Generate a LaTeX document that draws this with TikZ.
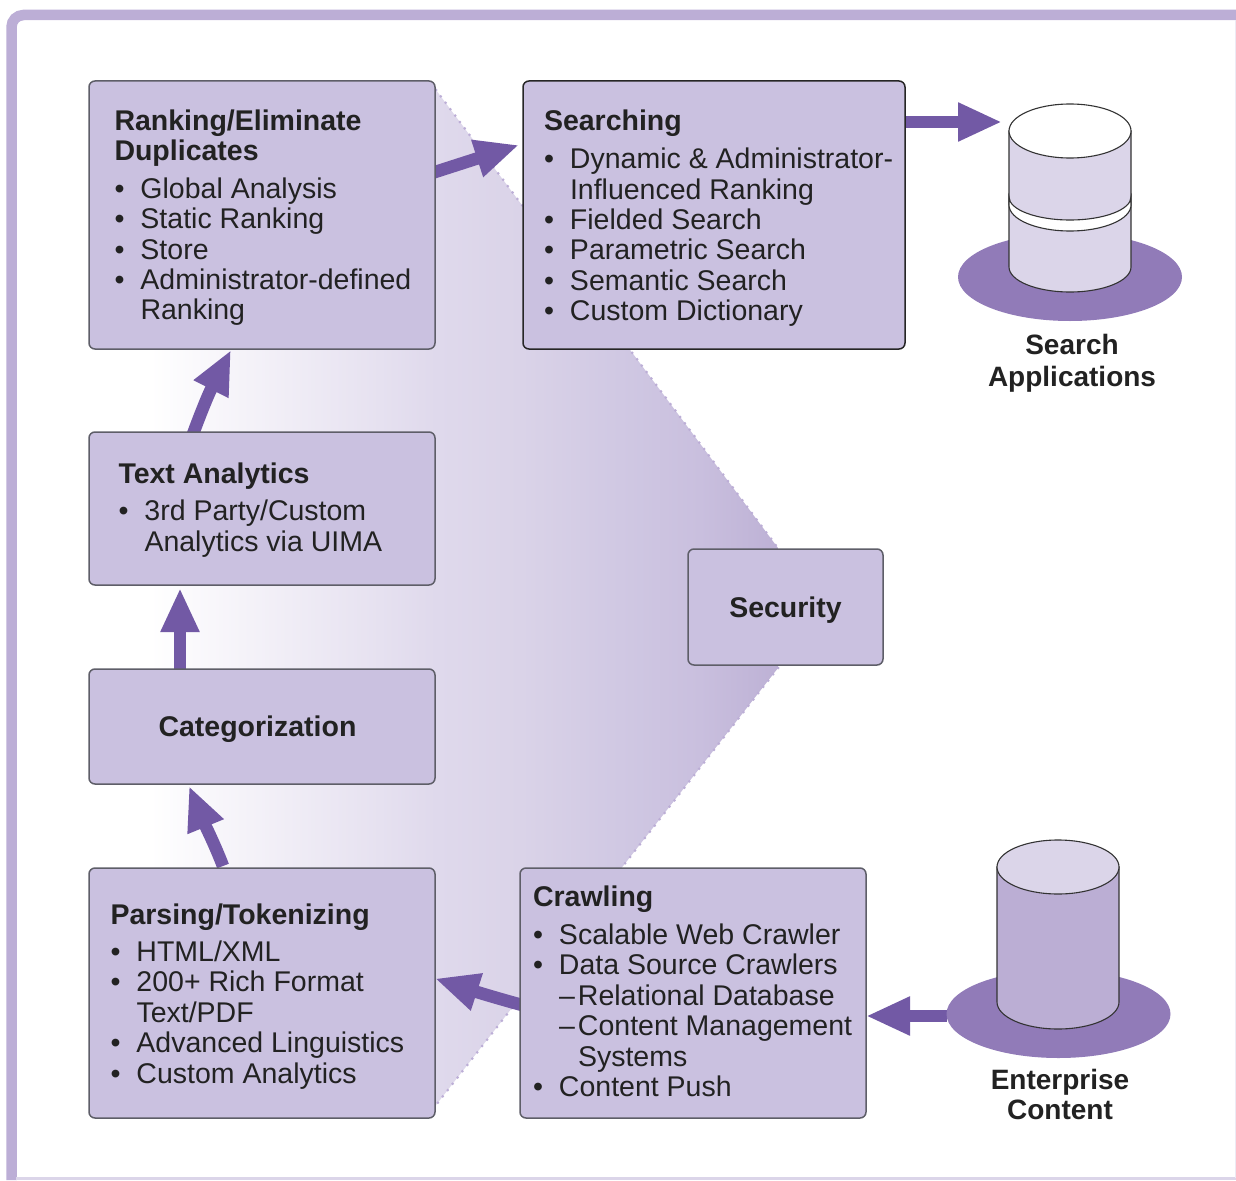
\documentclass[tikz,border=0pt]{standalone}
\usepackage{fontspec}
\setmainfont{Liberation Sans}
\usetikzlibrary{arrows.meta,shapes.geometric,backgrounds}
\definecolor{framec}{HTML}{BCAED6}
\definecolor{boxc}{HTML}{CAC1E0}
\definecolor{edgec}{HTML}{5E5E68}
\definecolor{arrowc}{HTML}{7259A5}
\definecolor{platc}{HTML}{917BB8}
\definecolor{lightc}{HTML}{DBD5E9}
\definecolor{bodyc}{HTML}{BBAED4}
\definecolor{textc}{HTML}{222222}
\definecolor{sA}{HTML}{E6E1F0}
\definecolor{sB}{HTML}{DFD9EC}
\definecolor{sC}{HTML}{DAD3E8}
\definecolor{sD}{HTML}{D0C8E3}
\definecolor{sE}{HTML}{C9BFDE}
\definecolor{sF}{HTML}{BDB1D5}
\pgfdeclarehorizontalshading{secshade}{100bp}{color(0bp)=(white);color(25bp)=(white);color(43.3bp)=(sA);color(47.8bp)=(sB);color(54.5bp)=(sC);color(62.4bp)=(sD);color(68.8bp)=(sE);color(75bp)=(sF);color(100bp)=(sF)}
\newdimen\tx
\newdimen\firstb
\newdimen\hgap
\newcommand\cbody[6]{\begin{minipage}[c][#2pt][t]{#1pt}\tx=#4pt\firstb=#3pt\hgap=#5pt\parindent=0pt\parskip=0pt\baselineskip=30.4pt\lineskiplimit=-100pt\hbadness=10000\hfuzz=30pt #6\end{minipage}}
\newcommand\boxhead[1]{\par\leftskip=\tx\noindent\rule{0pt}{\firstb}{\bfseries #1\par}\vspace{\hgap}}
\newcommand\boxitem[1]{\par\leftskip=\dimexpr\tx+26pt\relax\noindent\llap{\textbullet\hspace{16pt}}#1\par}
\newcommand\boxsub[1]{\par\leftskip=\dimexpr\tx+45pt\relax\noindent\llap{–\hspace{3pt}}#1\par}
\tikzset{
  x=1pt,y=-1pt,
  every node/.style={text=textc,font=\fontsize{28.5}{30.4}\selectfont},
  box/.style={draw=edgec,line width=1.5pt,fill=boxc,rounded corners=6pt,inner sep=0pt,outer sep=0pt},
  darkbox/.style={box,draw=black!85},
  lbl/.style={font=\fontsize{28.5}{30.4}\selectfont\bfseries,align=center,inner sep=0pt},
  caplbl/.style={font=\fontsize{28}{30.4}\selectfont\bfseries,align=center,inner sep=0pt},
  fat/.style={draw=arrowc,line width=12.5pt,-{Triangle[length=44pt,width=36pt,fill=arrowc]}},
  plat/.style={ellipse,fill=platc,inner sep=0pt,outer sep=0pt,minimum width=224pt,minimum height=88pt},
  cyl/.style={draw=black!80,line width=1.1pt},
  dotedge/.style={framec,line width=3pt,line cap=round,dash pattern=on 0pt off 8pt},
}
\begin{document}
\begin{tikzpicture}
\useasboundingbox (0,0) rectangle (1236,1180);
\draw[framec,line width=10.5pt,rounded corners=12pt] (1236,15) -- (11.5,15) -- (11.5,1180);
\draw[lightc,line width=2.5pt] (16,1178.7) -- (1236,1178.7);
\draw[lightc!50,line width=1pt] (1235.5,20) -- (1235.5,1178);
% boxes
\node[box,minimum width=346pt,minimum height=268pt] (rank) at (262,215) {\cbody{346}{268}{49}{25.5}{7.5}{%
  \boxhead{Ranking/Eliminate\\Duplicates}
  \boxitem{Global Analysis}\boxitem{Static Ranking}\boxitem{Store}\boxitem{Administrator-defined\\Ranking}}};
\node[darkbox,minimum width=382pt,minimum height=268pt] (search) at (714,215) {\cbody{382}{268}{49}{21}{8.3}{%
  \boxhead{Searching}
  \boxitem{Dynamic \& Administrator-\\Influenced Ranking}\boxitem{Fielded Search}\boxitem{Parametric Search}\boxitem{Semantic Search}\boxitem{Custom Dictionary}}};
\node[box,minimum width=346pt,minimum height=153pt] (text) at (262,508.5) {\cbody{346}{153}{51}{29.5}{7.5}{%
  \boxhead{Text Analytics}
  \boxitem{3rd Party/Custom\\Analytics via UIMA}}};
\node[box,minimum width=346pt,minimum height=115pt,lbl] (cat) at (262,726.5) {\hspace*{-9pt}\raisebox{0pt}[20.5pt][0pt]{Categorization}};
\node[box,minimum width=195pt,minimum height=116pt,lbl] (sec) at (785.5,607) {\raisebox{0pt}[20.5pt][0pt]{Security}};
\node[box,minimum width=346pt,minimum height=250pt] (parse) at (262,993) {\cbody{346}{250}{56}{21.5}{7}{%
  \boxhead{Parsing/Tokenizing}
  \boxitem{HTML/XML}\boxitem{200+ Rich Format\\Text/PDF}\boxitem{Advanced Linguistics}\boxitem{Custom Analytics}}};
\node[box,minimum width=346pt,minimum height=250pt] (crawl) at (693,993) {\cbody{346}{250}{38}{13}{8}{%
  \boxhead{Crawling}
  \boxitem{Scalable Web Crawler}\boxitem{Data Source Crawlers}\boxsub{Relational Database}\boxsub{Content Management\\Systems}\boxitem{Content Push}}};
% search applications cylinder
\node[plat] (splat) at (1070,277) {};
\path[cyl,fill=lightc] (1009,131) -- (1009,267) arc[start angle=180,end angle=0,x radius=61,y radius=25] -- (1131,131) -- cycle;
\path[cyl,fill=white] (1009,197) arc[start angle=180,end angle=0,x radius=61,y radius=23] -- (1131,205) arc[start angle=0,end angle=180,x radius=61,y radius=26] -- cycle;
\draw[cyl,fill=white] (1070,131) ellipse[x radius=61,y radius=27];
\node[caplbl] (sapps) at (1072,363) {Search\\[1.2pt]Applications};
\coordinate (sdb) at (1002,122);
% enterprise content cylinder
\node[plat] (eplat) at (1058.5,1014) {};
\path[cyl,fill=bodyc] (997,867) -- (997,1002) arc[start angle=180,end angle=0,x radius=61,y radius=27] -- (1119,867) -- cycle;
\draw[cyl,fill=lightc] (1058,867) ellipse[x radius=61,y radius=27];
\node[caplbl] (econt) at (1060,1094.5) {Enterprise\\Content};
% shaded section and arrows, under the boxes
\begin{scope}[on background layer]
\shade[shading=secshade] (150,90) -- (436,90) -- (778,548) -- (778,668) -- (436,1105) -- (150,1105) -- cycle;
\draw[dotedge] (436,90) -- (778,548);
\draw[dotedge] (778,668) -- (436,1105);
\draw[fat] ([yshift=-41pt]search.north east) -- (sdb);
\draw[fat] ([yshift=-2pt]eplat.west) -- ([xshift=0pt,yshift=-148pt]crawl.north east);
\draw[fat] ([xshift=2pt,yshift=-137pt]crawl.north west) .. controls (500,999) and (480,993) .. ([xshift=0pt,yshift=-110.5pt]parse.north east);
\draw[fat] ([xshift=134pt,yshift=2pt]parse.north west) .. controls (215,845) and (205,825) .. ([xshift=100pt,yshift=-2pt]cat.south west);
\draw[fat] ([xshift=91pt]cat.north west) -- ([xshift=91pt,yshift=-3pt]text.south west);
\draw[fat] ([xshift=104pt,yshift=-2pt]text.north west) .. controls (200,415) and (208,395) .. ([xshift=142pt,yshift=-1pt]rank.south west);
\draw[fat] ([xshift=-3pt,yshift=-92pt]rank.north east) -- ([xshift=-4pt,yshift=-64pt]search.north west);
\end{scope}
\end{tikzpicture}
\end{document}
